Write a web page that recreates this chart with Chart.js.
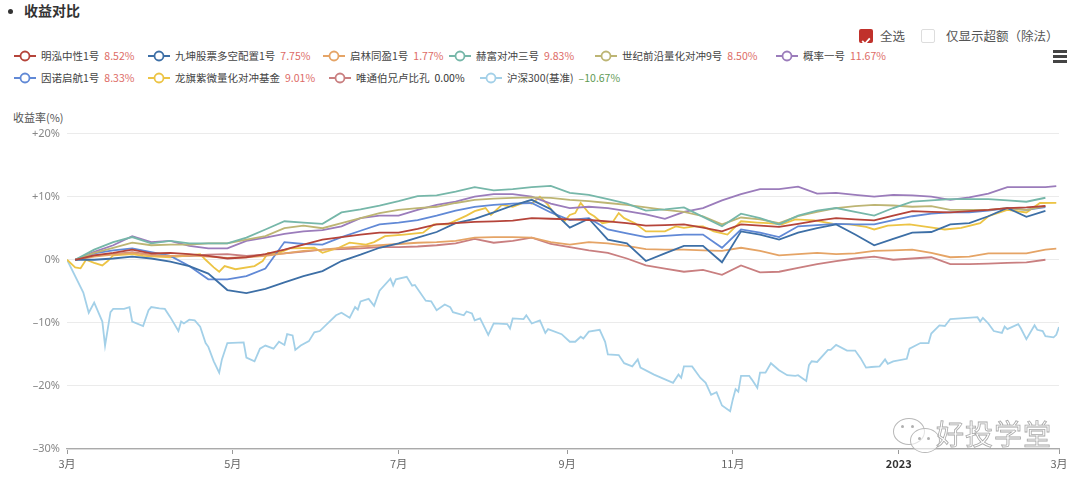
<!DOCTYPE html>
<html>
<head>
<meta charset="utf-8">
<script src="https://cdn.jsdelivr.net/npm/chart.js@4.4.0/dist/chart.umd.min.js"></script>
<style>
  body { margin: 0; width: 1080px; height: 487px; background: #fff; position: relative; overflow: hidden;
         font-family: "Noto Sans CJK SC", "Noto Sans", sans-serif; color: #333; }
  .title { position: absolute; left: 6px; top: 0px; font-size: 14px; font-weight: bold; line-height: 20px; }
  .title .dot { display: inline-block; width: 5px; height: 5px; border-radius: 50%; background: #333; margin: 0 11px 2px 2px; vertical-align: middle; }
  .chk { position: absolute; top: 29px; width: 14px; height: 14px; box-sizing: border-box; border-radius: 2px; }
  .chk.on { background: #c0312b; }
  .chk.off { border: 1px solid #ddd; }
  .chk-label { position: absolute; top: 27px; font-size: 12.5px; color: #555; line-height: 17px; }
  .menu { position: absolute; width: 14px; height: 2.5px; background: #444; }
  .legend-item { position: absolute; display: flex; align-items: center; font-size: 10.5px; line-height: 14px; white-space: nowrap; color: #444; }
  .legend-item svg { margin-right: 5px; }
  .legend-item .val { margin-left: 5px; }
  .ylabel { position: absolute; left: 13px; top: 109px; font-size: 11px; color: #555; }
  #chartBox { position: absolute; left: 0; top: 120px; width: 1080px; height: 367px; }
  .wm { position: absolute; left: 936px; top: 413px; font-size: 28px; color: transparent; -webkit-text-stroke: 0.8px #a8a8a8; letter-spacing: 1px; }
  .bubble { position: absolute; border: 1.3px solid #b8b8b8; border-radius: 50%; background: rgba(255,255,255,0.6); }
  .eye { position: absolute; width: 3px; height: 3px; border-radius: 50%; background: #b0b0b0; }
</style>
</head>
<body>
<div class="title"><span class="dot"></span>收益对比</div>

<div class="chk on" style="left:859px"><svg width="14" height="14" viewBox="0 0 14 14"><path d="M3.2 7 L6 9.8 L10.8 4.4" stroke="#fff" stroke-width="1.8" fill="none"/></svg></div>
<div class="chk-label" style="left:880px">全选</div>
<div class="chk off" style="left:921px"></div>
<div class="chk-label" style="left:946px">仅显示超额（除法）</div>

<div class="menu" style="left:1053px; top:50px"></div>
<div class="menu" style="left:1053px; top:55px"></div>
<div class="menu" style="left:1053px; top:60px"></div>

<div id="legend"></div>
<div class="ylabel">收益率(%)</div>

<div id="chartBox"><canvas id="chart" width="1080" height="367"></canvas></div>

<div class="bubble" style="left:893px; top:418px; width:30px; height:25px"></div>
<div class="eye" style="left:901px; top:425px"></div>
<div class="eye" style="left:911px; top:425px"></div>
<div class="bubble" style="left:910px; top:428px; width:28px; height:23px"></div>
<div class="eye" style="left:918px; top:437px"></div>
<div class="eye" style="left:927px; top:437px"></div>
<div class="wm">好投学堂</div>

<script>
// --- Data ---
// x values are days after 2022-03-01
const tickDays = [0, 61, 122, 184, 245, 306, 365];
const tickLabels = ['3月', '5月', '7月', '9月', '11月', '2023', '3月'];

const seriesNames = ['明泓中性1号', '九坤股票多空配置1号', '启林同盈1号', '赫富对冲三号', '世纪前沿量化对冲9号', '概率一号',
                     '因诺启航1号', '龙旗紫微量化对冲基金', '唯通伯兄卢比孔', '沪深300(基准)'];
const finalReturns = [8.52, 7.75, 1.77, 9.83, 8.50, 11.67, 8.33, 9.01, 0.00, -10.67];
const seriesColors = ['#b5443a', '#3d6fa6', '#e5a466', '#76b7a9', '#bdb574', '#9b7cbb', '#6189d6', '#ecc445', '#c97f80', '#a3d0e8'];

// weekly NAV dates
const fundDays = [3, 10, 17, 24, 31, 38, 45, 52, 59, 66, 73, 80, 87, 94, 101, 108, 115, 122, 129, 136, 143,
                  150, 157, 164, 171, 178, 185, 192, 199, 206, 213, 220, 227, 234, 241, 248, 255, 262, 269, 276,
                  283, 290, 297, 304, 311, 318, 325, 332, 339, 346, 353, 360, 364];

const minghong = [0, 0.7, 1.1, 1.6, 1.0, 1.1, 0.9, 0.6, 0.2, 0.4, 0.9, 1.6, 2.4, 3.2, 3.6, 4.0, 4.3, 4.3, 4.9, 5.6, 5.8,
                  6.0, 6.1, 6.2, 6.6, 6.5, 6.4, 6.3, 6.1, 5.8, 5.4, 5.5, 5.6, 5.1, 4.5, 5.6, 5.4, 5.2, 5.7, 6.2,
                  6.6, 6.4, 6.25, 7.0, 7.7, 7.6, 7.5, 7.7, 7.9, 8.2, 8.3, 8.52, null];
const jiukun = [0, 0.0, 0.2, 0.5, 0.2, -0.3, -1.0, -2.2, -4.8, -5.3, -4.6, -3.6, -2.6, -1.8, -0.2, 0.8, 1.9, 2.6, 3.5, 4.4, 5.8,
                6.5, 7.5, 8.6, 9.5, 8.0, 5.1, 6.5, 3.2, 2.6, -0.2, 1.0, 2.2, 2.2, -0.4, 4.5, 4.0, 3.2, 4.3, 5.0,
                5.6, 4.0, 2.3, 3.3, 4.3, 4.4, 5.6, 5.8, 6.9, 8.2, 6.8, 7.75, null];
const qilin = [0, 0.5, 0.8, 1.1, 0.7, 0.6, 0.7, 0.5, 0.3, 0.4, 0.6, 1.0, 1.4, 1.6, 1.9, 2.1, 2.3, 2.5, 2.7, 2.8, 3.0,
               3.5, 3.6, 3.6, 3.5, 2.8, 2.4, 2.8, 2.6, 2.2, 1.7, 1.6, 1.6, 1.5, 1.4, 1.9, 1.4, 0.7, 0.9, 1.1,
               0.9, 1.0, 1.4, 1.5, 1.6, 1.1, 0.4, 0.5, 1.0, 1.0, 1.0, 1.6, 1.77];
const hefu = [0, 1.6, 2.8, 3.6, 2.6, 3.0, 2.6, 2.6, 2.6, 3.5, 4.8, 6.1, 5.9, 5.7, 7.5, 8.0, 8.6, 9.3, 10.1, 10.2, 10.8,
              11.5, 11.0, 11.2, 11.5, 11.7, 10.6, 10.3, 9.6, 8.9, 7.8, 8.0, 8.3, 6.8, 5.3, 7.3, 6.6, 5.6, 7.0, 7.8,
              8.2, 7.6, 7.0, 8.2, 9.2, 9.4, 9.6, 9.6, 9.6, 9.4, 9.2, 9.83, null];
const shiji = [0, 1.1, 1.9, 2.7, 2.3, 2.4, 2.4, 2.6, 2.6, 3.2, 3.75, 5.0, 5.4, 5.0, 5.8, 6.6, 7.4, 7.9, 8.2, 8.4, 9.0,
               9.5, 9.7, 9.8, 9.9, 9.8, 9.5, 9.3, 9.0, 8.7, 8.3, 7.9, 7.6, 6.9, 5.6, 6.7, 6.4, 5.8, 6.9, 7.6,
               8.2, 8.5, 8.7, 8.6, 8.4, 8.5, 7.9, 7.9, 7.9, 8.2, 7.9, 8.50, null];
const gailv = [0, 1.25, 2.3, 3.75, 2.8, 3.0, 2.2, 1.8, 1.8, 3.0, 3.5, 4.1, 4.5, 4.7, 5.3, 6.6, 7.0, 7.0, 7.9, 8.7, 9.2,
               10.0, 10.4, 10.4, 10.0, 8.9, 8.2, 8.4, 8.2, 7.7, 7.2, 6.5, 7.6, 8.2, 9.4, 10.4, 11.2, 11.2, 11.6, 10.5,
               10.6, 10.3, 10.0, 10.3, 10.2, 10.0, 9.5, 9.9, 10.5, 11.5, 11.5, 11.5, 11.67];
const innuo = [0, 1.0, 1.5, 1.8, 1.2, 0.6, -1.0, -3.1, -3.1, -2.6, -1.4, 2.8, 2.5, 2.4, 3.6, 4.6, 5.6, 5.9, 6.3, 7.0, 7.8,
               8.4, 8.7, 8.9, 9.0, 7.5, 6.3, 6.6, 4.8, 4.2, 3.6, 3.8, 4.0, 4.0, 1.9, 4.8, 4.3, 3.6, 5.3, 5.5,
               5.7, 5.6, 5.6, 6.3, 6.9, 7.3, 7.5, 7.5, 7.8, 8.2, 7.9, 8.33, null];
const weitong = [0, 0.7, 0.9, 1.2, 0.8, 0.6, 0.6, 0.8, 0.9, 0.6, 0.8, 1.0, 1.3, 1.6, 1.7, 1.8, 2.0, 2.0, 2.1, 2.3, 2.6,
                 3.3, 2.7, 3.0, 3.5, 2.5, 2.0, 1.5, 1.1, 0.2, -0.9, -1.4, -1.9, -1.6, -2.4, -0.9, -2.0, -1.9, -1.3, -0.7,
                 -0.2, 0.2, 0.5, 0.0, 0.2, 0.4, -0.7, -0.7, -0.6, -0.5, -0.4, 0.0, null];

// 龙旗紫微 reports more often
const longqiDays = [0, 3, 5, 7, 10, 13, 15, 17, 24, 28, 38, 45, 49, 51, 54, 56, 58, 62, 69, 72, 74, 78, 82, 91, 94, 100,
                    104, 110, 113, 117, 124, 131, 135, 140, 144, 147, 150, 154, 156, 160, 164, 169, 171, 174, 177, 179,
                    183, 185, 187, 189, 192, 194, 197, 201, 203, 205, 209, 213, 220, 224, 227, 231, 234, 238, 243, 248,
                    254, 258, 263, 268, 275, 282, 288, 294, 297, 302, 310, 319, 323, 329, 336, 339, 346, 353, 358, 364];
const longqi = [0, -1.2, -1.35, 0, -0.5, -0.9, -0.2, 0.7, 0.9, 0.6, 0.4, 0.7, 0.9, 0, -1.2, -1.9, -1.0, -1.5, -1.0, -0.2,
                1.1, 1.1, 1.8, 1.9, 1.1, 1.9, 2.7, 2.4, 2.8, 3.75, 4.0, 4.3, 5.6, 5.6, 6.4, 7.0, 7.7, 8.2, 7.1, 8.7,
                8.4, 9.2, 8.9, 10.0, 8.7, 7.4, 6.1, 7.1, 7.4, 9.0, 7.4, 6.9, 5.8, 6.1, 7.4, 6.6, 5.8, 4.5, 4.5, 5.3,
                5.05, 5.3, 5.3, 4.5, 4.0, 6.1, 5.9, 5.8, 5.6, 6.4, 6.25, 5.7, 5.6, 5.2, 4.8, 5.4, 5.6, 5.05, 4.8, 5.05,
                5.8, 6.9, 7.9, 7.5, 9.0, 9.01];

// 沪深300 daily close (sampled)
const hs300Days = [0, 6, 8, 10, 11, 13, 14, 16, 17, 21, 23, 24, 28, 30, 31, 34, 36, 38, 41, 42, 43, 45, 47, 49, 51, 52,
                   54, 56, 57, 59, 65, 66, 69, 71, 73, 76, 78, 80, 81, 83, 84, 86, 89, 91, 93, 99, 101, 104, 106, 107,
                   108, 111, 113, 115, 119, 120, 121, 125, 127, 128, 132, 134, 136, 139, 141, 142, 146, 147, 149, 150,
                   152, 155, 157, 162, 163, 164, 168, 169, 171, 174, 176, 177, 182, 185, 187, 189, 190, 192, 196, 198,
                   199, 203, 205, 208, 210, 211, 216, 223, 225, 226, 227, 230, 233, 235, 237, 239, 241, 244, 245, 246,
                   247, 248, 251, 252, 254, 255, 257, 259, 262, 265, 268, 269, 272, 273, 274, 276, 280, 281, 283, 287,
                   290, 292, 294, 296, 299, 301, 302, 304, 309, 310, 314, 317, 318, 321, 323, 325, 335, 336, 337, 339,
                   341, 344, 345, 346, 350, 351, 353, 356, 357, 359, 360, 363, 364, 365];
const hs300 = [0, -5.2, -8.4, -6.8, -7.8, -9.8, -13.6, -8.3, -7.8, -7.8, -7.5, -9.8, -10.5, -8.0, -7.5, -7.7, -7.8, -9.1,
               -11.3, -9.8, -10.1, -9.5, -9.6, -10.6, -13.2, -13.8, -16.1, -17.9, -15.8, -13.2, -13.1, -15.5, -16.1,
               -14.1, -13.6, -14.1, -13.0, -13.5, -11.8, -12.0, -14.3, -13.6, -12.9, -11.5, -11.3, -8.8, -8.4, -9.2,
               -7.5, -7.9, -6.6, -6.2, -7.3, -4.9, -3.0, -4.1, -3.1, -2.7, -4.1, -4.0, -6.5, -6.6, -8.0, -7.1, -7.5,
               -8.3, -8.8, -8.2, -8.5, -9.6, -9.3, -11.9, -10.1, -10.2, -10.9, -9.3, -9.4, -8.8, -10.1, -9.6, -11.6,
               -11.0, -11.8, -13.0, -13.0, -12.2, -12.5, -11.4, -11.1, -13.0, -15.0, -15.1, -16.4, -16.9, -15.8,
               -17.1, -18.2, -19.5, -18.2, -18.7, -16.9, -16.9, -18.7, -19.5, -21.4, -21.0, -23.1, -24.0, -22.1,
               -20.5, -20.9, -18.4, -18.4, -19.0, -20.3, -17.9, -17.9, -16.4, -17.5, -18.3, -18.4, -18.3, -19.2,
               -16.7, -16.1, -16.2, -14.3, -14.3, -13.5, -14.4, -14.4, -15.6, -17.1, -17.0, -16.9, -15.8, -16.5,
               -16.1, -15.7, -14.1, -13.2, -13.2, -11.7, -10.4, -10.5, -9.4, -9.1, -9.8, -9.2, -10.1, -11.3, -11.6,
               -10.6, -11.0, -10.2, -10.9, -12.6, -10.4, -11.1, -11.3, -12.1, -12.3, -11.9, -10.67];

// --- Build legend ---
const legendPos = [[14, 56], [148, 56], [323, 56], [449, 56], [595, 56], [776, 56],
                   [14, 78], [148, 78], [329, 78], [480, 78]];
const legendEl = document.getElementById('legend');
seriesNames.forEach((name, i) => {
    const item = document.createElement('div');
    item.className = 'legend-item';
    item.style.left = legendPos[i][0] + 'px';
    item.style.top = (legendPos[i][1] - 7) + 'px';
    const r = finalReturns[i];
    const valColor = r > 0 ? '#dd6b66' : (r < 0 ? '#5f9a55' : '#333');
    const valText = (r < 0 ? '–' + Math.abs(r).toFixed(2) : r.toFixed(2)) + '%';
    item.innerHTML =
        `<svg width="22" height="12"><line x1="0" y1="6" x2="22" y2="6" stroke="${seriesColors[i]}" stroke-width="2"/>` +
        `<circle cx="11" cy="6" r="4.5" fill="#fff" stroke="${seriesColors[i]}" stroke-width="1.8"/></svg>` +
        `<span>${name}</span><span class="val" style="color:${valColor}">${valText}</span>`;
    legendEl.appendChild(item);
});

// --- Datasets ---
function toPoints(days, values) {
    return days.map((d, i) => ({ x: d, y: values[i] }));
}
const fundValues = [minghong, jiukun, qilin, hefu, shiji, gailv, innuo, null, weitong];
const datasets = seriesNames.map((name, i) => {
    let pts;
    if (i === 7) pts = toPoints(longqiDays, longqi);
    else if (i === 9) pts = toPoints(hs300Days, hs300);
    else pts = toPoints(fundDays, fundValues[i]);
    return {
        label: name,
        data: pts,
        borderColor: seriesColors[i],
        backgroundColor: seriesColors[i],
        borderWidth: 1.8,
        pointRadius: 0,
        tension: 0,
        spanGaps: false
    };
});

new Chart(document.getElementById('chart'), {
    type: 'line',
    data: { datasets },
    options: {
        responsive: false,
        animation: false,
        layout: { padding: { left: 0, right: 21, top: 9, bottom: 8 } },
        plugins: { legend: { display: false }, tooltip: { enabled: false } },
        scales: {
            x: {
                type: 'linear',
                min: 0,
                max: 365,
                afterBuildTicks: scale => { scale.ticks = tickDays.map(v => ({ value: v })); },
                afterFit: scale => { scale.height = 30; },
                ticks: {
                    autoSkip: false,
                    maxRotation: 0,
                    padding: 3,
                    callback: (v, idx) => tickLabels[idx],
                    color: ctx => (ctx.tick && ctx.tick.label === '2023') ? '#333' : '#666',
                    font: ctx => ({ size: 11, family: '"Noto Sans CJK SC", "Noto Sans", sans-serif',
                                    weight: (ctx.tick && ctx.tick.label === '2023') ? 'bold' : 'normal' })
                },
                grid: { drawOnChartArea: false, drawTicks: true, tickLength: 5, color: '#999' },
                border: { color: '#aaa', width: 1.2 }
            },
            y: {
                min: -30,
                max: 20,
                afterFit: scale => { scale.width = 67; },
                ticks: {
                    stepSize: 10,
                    padding: 7,
                    color: '#888',
                    font: { size: 11, family: '"Noto Sans", sans-serif' },
                    callback: v => v > 0 ? '+' + v + '%' : (v < 0 ? '–' + Math.abs(v) + '%' : '0%')
                },
                grid: { color: '#ebebeb', drawTicks: false },
                border: { display: false }
            }
        }
    }
});
</script>
</body>
</html>
